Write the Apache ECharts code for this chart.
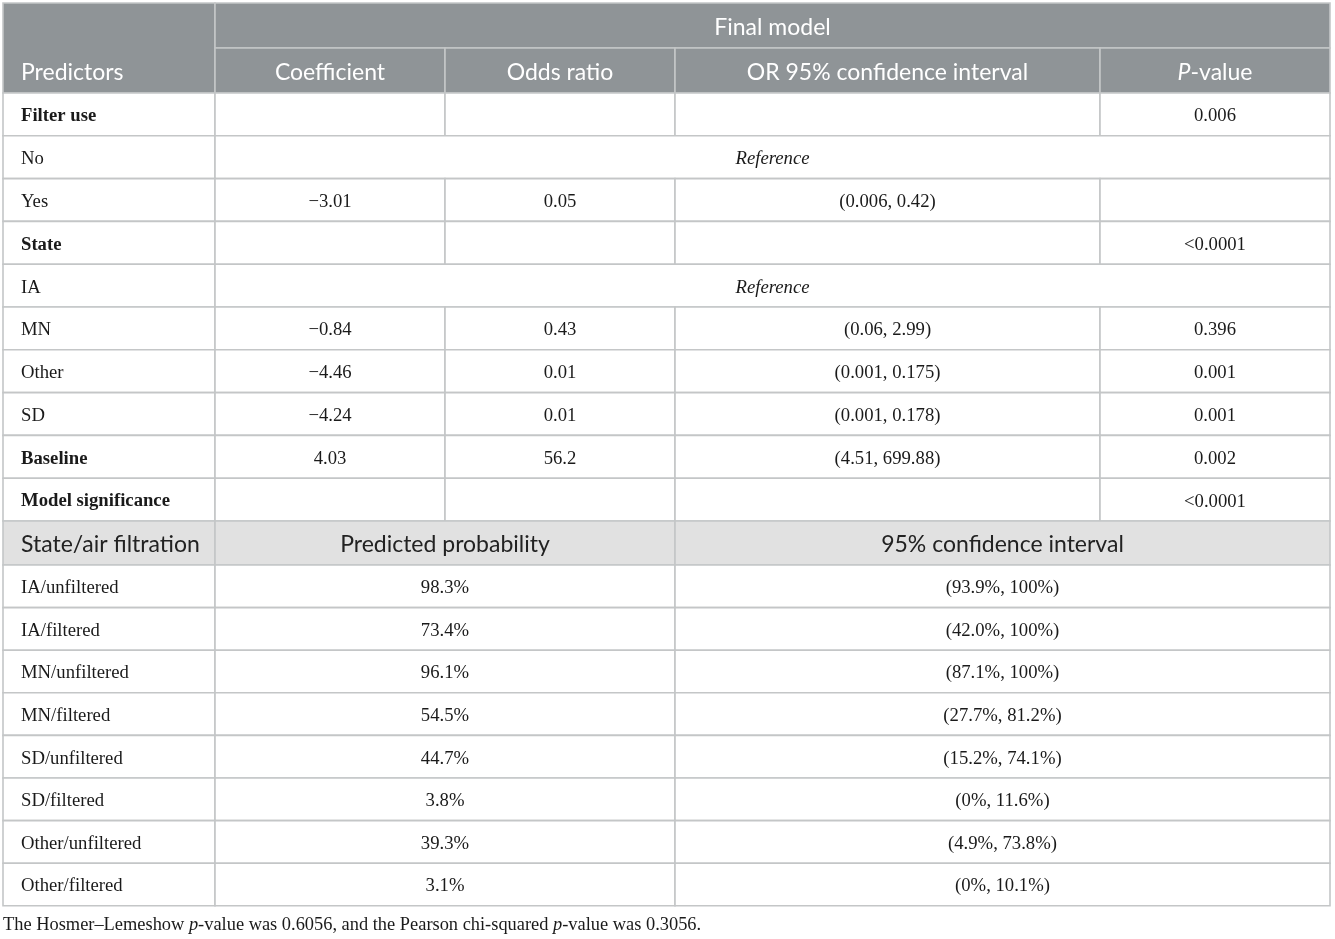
<!DOCTYPE html>
<html>
<head>
<meta charset="utf-8">
<script src="https://cdn.jsdelivr.net/npm/echarts@6/dist/echarts.min.js"></script>
<style>
  html, body { margin: 0; padding: 0; background: #fff; }
  #main { width: 1335px; height: 939px; }
</style>
</head>
<body>
<div id="main"></div>
<script>
// table contents
const headerCols = ['Coefficient', 'Odds ratio', 'OR 95% confidence interval', '{i|P}-value'];
const predictors = ['Filter use', 'No', 'Yes', 'State', 'IA', 'MN', 'Other', 'SD', 'Baseline', 'Model significance'];
const boldRows = [true, false, false, true, false, false, false, false, true, true];
const referenceRows = [false, true, false, false, true, false, false, false, false, false];
const coefficient = ['', '', '\u22123.01', '', '', '\u22120.84', '\u22124.46', '\u22124.24', '4.03', ''];
const oddsRatio = ['', '', '0.05', '', '', '0.43', '0.01', '0.01', '56.2', ''];
const orInterval = ['', '', '(0.006, 0.42)', '', '', '(0.06, 2.99)', '(0.001, 0.175)', '(0.001, 0.178)', '(4.51, 699.88)', ''];
const pValue = ['0.006', '', '', '<0.0001', '', '0.396', '0.001', '0.001', '0.002', '<0.0001'];

const subHeader = ['State/air filtration', 'Predicted probability', '95% confidence interval'];
const groups = ['IA/unfiltered', 'IA/filtered', 'MN/unfiltered', 'MN/filtered', 'SD/unfiltered', 'SD/filtered', 'Other/unfiltered', 'Other/filtered'];
const predProb = ['98.3%', '73.4%', '96.1%', '54.5%', '44.7%', '3.8%', '39.3%', '3.1%'];
const probInterval = ['(93.9%, 100%)', '(42.0%, 100%)', '(87.1%, 100%)', '(27.7%, 81.2%)', '(15.2%, 74.1%)', '(0%, 11.6%)', '(4.9%, 73.8%)', '(0%, 10.1%)'];

const footnote = 'The Hosmer\u2013Lemeshow {i|p}-value was 0.6056, and the Pearson chi-squared {i|p}-value was 0.3056.';

// layout
const colX = [3, 215, 445, 675, 1100, 1330];
const lowColX = [3, 215, 675, 1330];
const headTop = 3, headMid = 48, headBottom = 93;
const rowH = 42.8;
const subTop = headBottom + rowH * predictors.length;
const subBottom = subTop + 44;
const lowRowH = 42.6;

const cells = [];
function addCell(x0, x1, y0, y1, text, kind) {
  cells.push({ x0, x1, y0, y1, text, kind });
}

// header
addCell(colX[0], colX[1], headTop, headBottom, 'Predictors', 'headLeft');
addCell(colX[1], colX[5], headTop, headMid, 'Final model', 'head');
headerCols.forEach((t, i) => addCell(colX[i + 1], colX[i + 2], headMid, headBottom, t, 'head'));

// upper body
predictors.forEach((p, r) => {
  const y0 = headBottom + rowH * r, y1 = y0 + rowH;
  addCell(colX[0], colX[1], y0, y1, p, boldRows[r] ? 'labelBold' : 'label');
  if (referenceRows[r]) {
    addCell(colX[1], colX[5], y0, y1, 'Reference', 'ref');
  } else {
    [coefficient, oddsRatio, orInterval, pValue].forEach((arr, c) => {
      addCell(colX[c + 1], colX[c + 2], y0, y1, arr[r], 'body');
    });
  }
});

// lower section
subHeader.forEach((t, c) => addCell(lowColX[c], lowColX[c + 1], subTop, subBottom, t, c === 0 ? 'subLeft' : 'sub'));
groups.forEach((g, r) => {
  const y0 = subBottom + lowRowH * r, y1 = y0 + lowRowH;
  addCell(lowColX[0], lowColX[1], y0, y1, g, 'label');
  addCell(lowColX[1], lowColX[2], y0, y1, predProb[r], 'body');
  addCell(lowColX[2], lowColX[3], y0, y1, probInterval[r], 'body');
});

const sans = 'Lato, "Open Sans", sans-serif';
const serif = '"Liberation Serif", "Times New Roman", serif';
const styles = {
  head:      { fill: '#8f9497', color: '#ffffff', family: sans, size: 23, weight: 'normal', italic: false, left: false, dy: 2.5 },
  headLeft:  { fill: '#8f9497', color: '#ffffff', family: sans, size: 23, weight: 'normal', italic: false, left: true, dy: 24.5 },
  sub:       { fill: '#e1e1e1', color: '#222222', family: sans, size: 23, weight: 'normal', italic: false, left: false, dy: 2 },
  subLeft:   { fill: '#e1e1e1', color: '#222222', family: sans, size: 23, weight: 'normal', italic: false, left: true, dy: 2 },
  label:     { fill: '#ffffff', color: '#1a1a1a', family: serif, size: 18.7, weight: 'normal', italic: false, left: true, dy: 2 },
  labelBold: { fill: '#ffffff', color: '#1a1a1a', family: serif, size: 18.7, weight: 'bold', italic: false, left: true, dy: 2 },
  body:      { fill: '#ffffff', color: '#1a1a1a', family: serif, size: 18.7, weight: 'normal', italic: false, left: false, dy: 2 },
  ref:       { fill: '#ffffff', color: '#1a1a1a', family: serif, size: 18.7, weight: 'normal', italic: true, left: false, dy: 2 }
};

const chart = echarts.init(document.getElementById('main'));
chart.setOption({
  animation: false,
  grid: { left: 0, right: 0, top: 0, bottom: 0 },
  xAxis: { type: 'value', min: 0, max: 1335, show: false },
  yAxis: { type: 'value', min: 0, max: 939, inverse: true, show: false },
  title: {
    text: footnote,
    left: 3,
    top: 916,
    padding: 0,
    textStyle: {
      fontFamily: serif, fontSize: 18.4, fontWeight: 'normal', color: '#1a1a1a',
      rich: { i: { fontFamily: serif, fontSize: 18.4, fontStyle: 'italic', color: '#1a1a1a' } }
    }
  },
  series: [{
    type: 'custom',
    clip: false,
    data: cells.map((c, i) => [c.x0, c.x1, c.y0, c.y1, i]),
    renderItem: function (params, api) {
      const cell = cells[params.dataIndex];
      const st = styles[cell.kind];
      const p0 = api.coord([api.value(0), api.value(2)]);
      const p1 = api.coord([api.value(1), api.value(3)]);
      const tx = st.left ? p0[0] + 18 : (p0[0] + p1[0]) / 2;
      const ty = (p0[1] + p1[1]) / 2 + st.dy;
      return {
        type: 'group',
        children: [{
          type: 'rect',
          shape: { x: p0[0], y: p0[1], width: p1[0] - p0[0], height: p1[1] - p0[1] },
          style: { fill: st.fill, stroke: '#c4c6c7', lineWidth: 1.6 }
        }, {
          type: 'text',
          style: {
            text: cell.text,
            x: tx,
            y: ty,
            align: st.left ? 'left' : 'center',
            verticalAlign: 'middle',
            fontFamily: st.family,
            fontSize: st.size,
            fontWeight: st.weight,
            fontStyle: st.italic ? 'italic' : 'normal',
            fill: st.color,
            rich: {
              i: { fontFamily: st.family, fontSize: st.size, fontStyle: 'italic', fill: st.color }
            }
          }
        }]
      };
    }
  }]
});
</script>
</body>
</html>
